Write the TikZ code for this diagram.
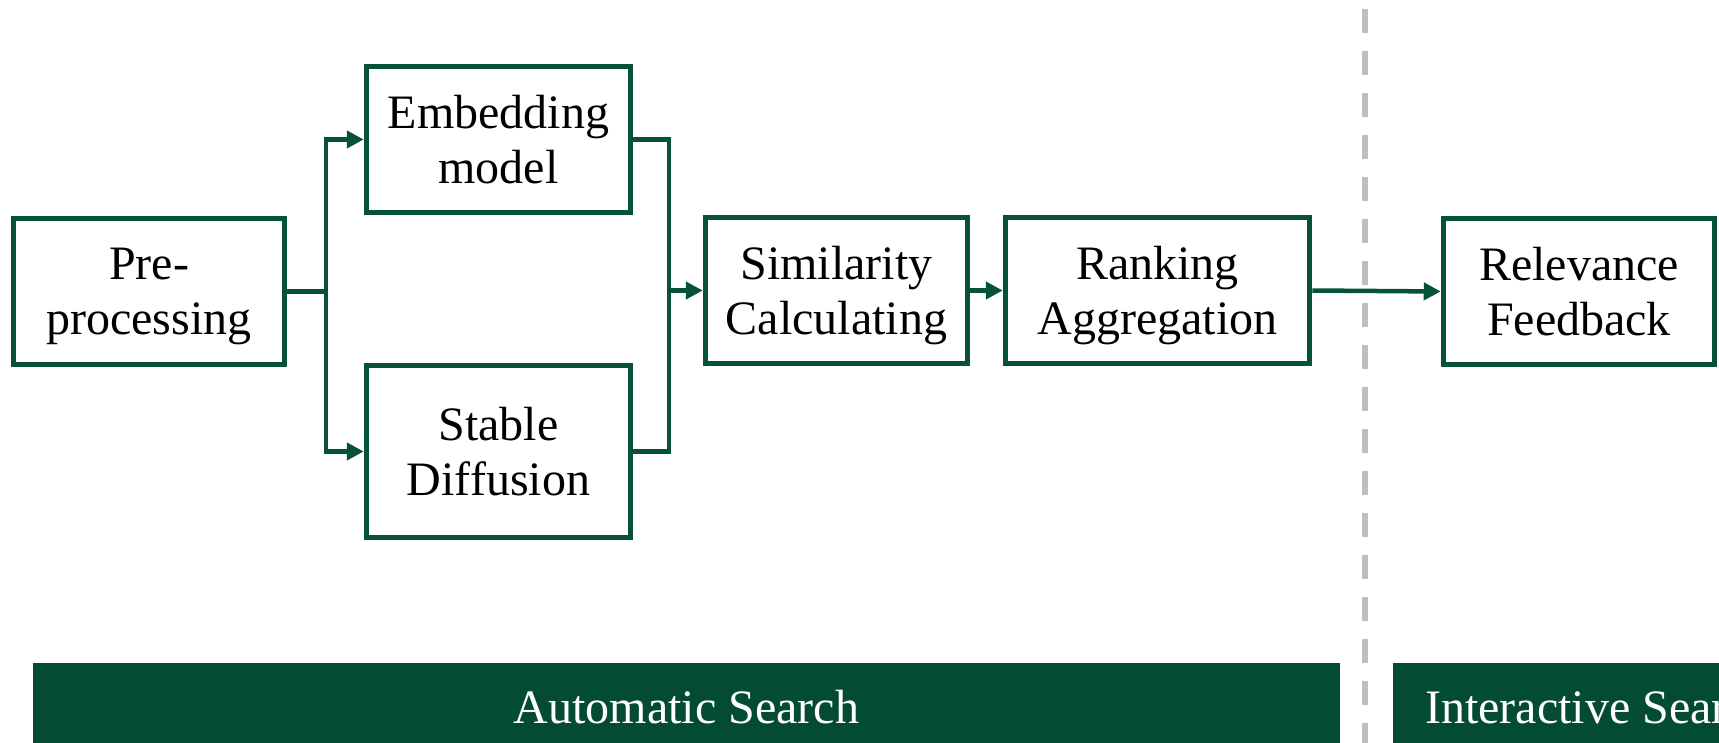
\documentclass[tikz,border=0pt]{standalone}
\usepackage{fontspec}
\setmainfont{Liberation Serif}
\usetikzlibrary{arrows.meta}
\definecolor{boxgreen}{RGB}{5,82,56}
\definecolor{bargreen}{RGB}{3,76,50}
\definecolor{dashgray}{RGB}{191,191,191}
\begin{document}
\begin{tikzpicture}[x=1pt,y=-1pt,
  stepbox/.style={draw=boxgreen, line width=5.5pt, fill=white, align=center,
    font=\fontsize{48}{55}\selectfont, inner sep=0pt, minimum height=146pt, text depth=0pt},
  conn/.style={draw=boxgreen, line width=4.5pt},
  arr/.style={conn, -{Triangle[length=17pt,width=17pt]}},
  barbox/.style={fill=bargreen, draw=none, inner sep=0pt},
  bartext/.style={text=white, font=\fontsize{48}{55}\selectfont, inner sep=0pt}]
\useasboundingbox (0,0) rectangle (1719,743);
\clip (0,0) rectangle (1719,743);

% dashed separator
\coordinate (dtop) at (1365,9);
\coordinate (dbot) at (1365,760);
\draw[dashgray, line width=6pt, dash pattern=on 24pt off 18pt] (dtop) -- (dbot);

% boxes
\node[stepbox, minimum width=271pt] (pre) at (149,291.5) {Pre-\\processing};
\node[stepbox, minimum width=264pt] (emb) at (498.5,139.5) {Embedding\\model};
\node[stepbox, minimum width=264pt, minimum height=172pt] (sd) at (498.5,451.5) {Stable\\Diffusion};
\node[stepbox, minimum width=262pt] (sim) at (836.5,290.5) {Similarity\\Calculating};
\node[stepbox, minimum width=304pt] (rank) at (1157.5,290.5) {Ranking\\Aggregation};
\node[stepbox, minimum width=271pt] (rel) at (1579,291.5) {Relevance\\Feedback};

% connectors
\coordinate (bl) at (326,291.5);
\coordinate (br) at (669,290.5);
\draw[conn] (pre.east) -- (bl);
\draw[arr] (bl) |- (emb.west);
\draw[arr] (bl) |- (sd.west);
\draw[conn] (emb.east) -| (br);
\draw[conn] (sd.east) -| (br);
\draw[arr] (br) -- (sim.west);
\draw[arr] (sim.east) -- (rank.west);
\draw[arr] (rank.east) -- (rel.west);

% bottom bars
\node[barbox, minimum width=1307pt, minimum height=85pt] (autobar) at (686.5,705.5) {};
\node[bartext] (autotext) at (686.5,707) {Automatic Search};
\node[barbox, minimum width=400pt, minimum height=85pt, anchor=west] (interbar) at (1393,705.5) {};
\node[bartext, anchor=west] (intertext) at (1425,707) {Interactive Search};
\end{tikzpicture}
\end{document}
